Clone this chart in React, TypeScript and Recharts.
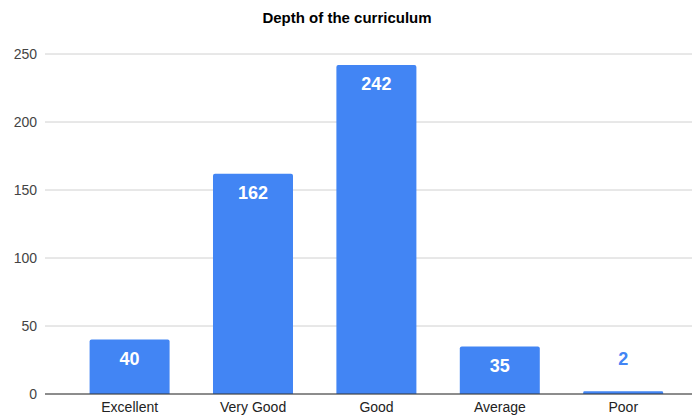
import React from 'react';
import { BarChart, Bar, XAxis, YAxis, CartesianGrid, LabelList } from 'recharts';

const categories = ['Excellent', 'Very Good', 'Good', 'Average', 'Poor'];
const counts = [40, 162, 242, 35, 2];
const yTicks = [0, 50, 100, 150, 200, 250];

const data = categories.map((name, i) => ({ name, value: counts[i] }));

const BLUE = '#4285F4';
const FONT = '"Liberation Sans", Arial, sans-serif';

const renderLabel = (props: any) => {
  const { x, y, width, height, value } = props;
  const inside = height > 30;
  const cx = x + width / 2;
  const cy = inside ? y + 19 : y - 33;
  return (
    <text
      x={cx}
      y={cy}
      dy="0.35em"
      textAnchor="middle"
      fill={inside ? '#ffffff' : BLUE}
      fontSize={18}
      fontWeight="bold"
      fontFamily={FONT}
    >
      {value}
    </text>
  );
};

export default function App() {
  return (
    <div style={{ position: 'absolute', left: 0, top: 0, width: 694, height: 420, background: '#fff', fontFamily: FONT }}>
      <div
        style={{
          position: 'absolute',
          left: 0,
          top: 9,
          width: 694,
          textAlign: 'center',
          fontSize: 15,
          fontWeight: 'bold',
          color: '#000',
          lineHeight: '18px',
        }}
      >
        Depth of the curriculum
      </div>
      <BarChart
        width={694}
        height={420}
        data={data}
        margin={{ top: 54, right: 2, left: 0, bottom: 0 }}
        barCategoryGap="17.5%"
      >
        <CartesianGrid vertical={false} stroke="#d0d0d0" />
        <XAxis
          dataKey="name"
          height={26}
          padding={{ left: 23, right: 7 }}
          tickLine={false}
          axisLine={{ stroke: '#333333' }}
          tick={{ fill: '#222222', fontSize: 14, fontFamily: FONT }}
          interval={0}
        />
        <YAxis
          width={45}
          domain={[0, 250]}
          ticks={yTicks}
          tickLine={false}
          axisLine={false}
          tick={{ fill: '#444444', fontSize: 14, fontFamily: FONT }}
        />
        <Bar dataKey="value" fill={BLUE} isAnimationActive={false} radius={[2, 2, 0, 0]}>
          <LabelList dataKey="value" content={renderLabel} />
        </Bar>
      </BarChart>
    </div>
  );
}
